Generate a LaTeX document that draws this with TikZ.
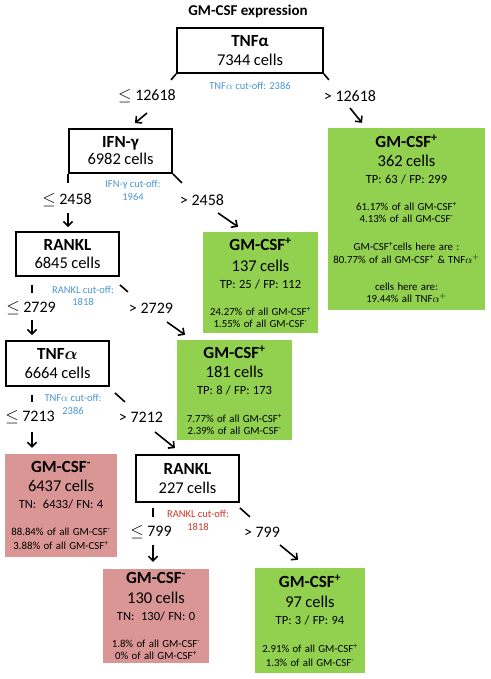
\documentclass[tikz,border=0pt]{standalone}
\usepackage{amsmath}
\usepackage{fontspec}
\setmainfont{Carlito}
\usetikzlibrary{arrows.meta}
\definecolor{leafgreen}{HTML}{92D050}
\definecolor{leafred}{HTML}{D99694}
\definecolor{cutblue}{HTML}{4A94D4}
\definecolor{cutred}{HTML}{D0342C}
\newcommand{\gmp}{GM-CSF\textsuperscript{+}}
\newcommand{\gmn}{GM-CSF\textsuperscript{-}}
\newcommand{\headline}[1]{{\fontsize{17}{17}\selectfont\bfseries #1\par}}
\newcommand{\cellline}[2][19]{{\fontsize{16.5}{#1}\selectfont #2\par}}
\newcommand{\rateline}[1]{{\fontsize{12.5}{17}\selectfont #1\par}}
\newcommand{\pctline}[2][12]{{\fontsize{10.8}{#1}\selectfont #2\par}}
\tikzstyle{block} = [draw, rectangle, line width=1.8pt, align=center, inner sep=0pt]
\tikzstyle{posleaf} = [fill=leafgreen, rectangle, align=center, inner sep=0pt]
\tikzstyle{negleaf} = [fill=leafred, rectangle, align=center, inner sep=0pt]
\tikzstyle{branch} = [font=\fontsize{16}{16}\selectfont, inner sep=0pt]
\tikzstyle{cutoff} = [text=cutblue, font=\fontsize{10.5}{12.5}\selectfont, align=center, inner sep=0pt]
\tikzstyle{stub} = [line width=1.6pt]
\tikzstyle{link} = [->, line width=1.6pt]

\begin{document}
\begin{tikzpicture}[x=1pt, y=1pt, >={Straight Barb[length=4.5pt,width=9pt]}]
		\useasboundingbox (0,0) rectangle (490,-679);
		\node [font=\fontsize{15}{15}\selectfont\bfseries] (title) at (248,-11) {GM-CSF expression};

		% split nodes
		\node [block, minimum width=146pt, minimum height=45pt, text width=146pt] (root) at (250,-50.5) {\headline{TNFα}\cellline{7344 cells}};
		\node [block, minimum width=103pt, minimum height=44pt, text width=103pt] (ifn) at (120.5,-151) {\headline{IFN-γ}\cellline[17]{6982 cells}};
		\node [block, minimum width=103pt, minimum height=44pt, text width=103pt] (rankla) at (67.5,-254) {\headline{RANKL}\cellline[18]{6845 cells}};
		\node [block, minimum width=103pt, minimum height=45pt, text width=103pt] (tnfb) at (57.5,-363.5) {\headline{TNF$\boldsymbol{\alpha}$}\cellline{6664 cells}};
		\node [block, minimum width=103pt, minimum height=47pt, text width=103pt] (ranklb) at (187.5,-478.5) {\headline{RANKL}\cellline{227 cells}};

		% leaves
		\node [posleaf, minimum width=157pt, minimum height=182pt, text width=157pt] (gpa) at (406.5,-219) {\headline{\gmp}\cellline{362 cells}\rateline{TP: 63 / FP: 299}\pctline[27]{61.17\% of all \gmp}\pctline{4.13\% of all \gmn}\pctline[28]{\gmp{}cells here are :}\pctline[13]{80.77\% of all \gmp{} \& TNF$\alpha^{+}$}\pctline[27]{cells here are:}\pctline{19.44\% all TNF$\alpha^{+}$}};
		\node [posleaf, minimum width=115pt, minimum height=101pt, text width=115pt] (gpb) at (260.5,-282.5) {\headline{\gmp}\cellline[21]{137 cells}\rateline{TP: 25 / FP: 112}\pctline[27]{24.27\% of all \gmp}\pctline[12]{1.55\% of all \gmn}};
		\node [posleaf, minimum width=115pt, minimum height=100pt, text width=115pt] (gpc) at (234.5,-390) {\headline{\gmp}\cellline{181 cells}\rateline{TP: 8 / FP: 173}\pctline[28]{7.77\% of all \gmp}\pctline{2.39\% of all \gmn}};
		\node [negleaf, minimum width=112pt, minimum height=103pt, text width=112pt] (gna) at (61,-505.5) {\headline{\gmn}\cellline{6437 cells}\rateline{TN:~~6433/ FN: 4}\pctline[27]{88.84\% of all \gmn}\pctline[14]{3.88\% of all \gmp}};
		\node [negleaf, minimum width=106pt, minimum height=94pt, text width=106pt] (gnb) at (156,-616) {\headline{\gmn}\cellline[20]{130 cells}\rateline{TN:~~130/ FN: 0}\pctline[27]{1.8\% of all \gmn}\pctline[12]{0\% of all \gmp}};
		\node [posleaf, minimum width=110pt, minimum height=105pt, text width=110pt] (gpd) at (310,-620.5) {\headline{\gmp}\cellline[20]{97 cells}\rateline{TP: 3 / FP: 94}\pctline[28]{2.91\% of all \gmp}\pctline[14]{1.3\% of all \gmn}};

		% cut-offs and thresholds
		\node [cutoff] (cuta) at (250,-86) {TNF$\alpha$ cut-off: 2386};
		\node [cutoff] (cutb) at (133,-190.5) {IFN-γ cut-off:\\1964};
		\node [cutoff] (cutc) at (83,-296) {RANKL cut-off:\\1818};
		\node [cutoff] (cutd) at (73,-404.5) {TNF$\alpha$ cut-off:\\2386};
		\node [cutoff, text=cutred] (cute) at (198,-520.5) {RANKL cut-off:\\1818};
		\node [branch] (lea) at (147,-96) {$\leq$ 12618};
		\node [branch] (gta) at (350,-96) {> 12618};
		\node [branch] (leb) at (67,-200) {$\leq$ 2458};
		\node [branch] (gtb) at (202,-200) {> 2458};
		\node [branch] (lec) at (31,-308) {$\leq$ 2729};
		\node [branch] (gtc) at (151,-308) {> 2729};
		\node [branch] (led) at (30,-417) {$\leq$ 7213};
		\node [branch] (gtd) at (141,-417) {> 7212};
		\node [branch] (lee) at (151,-532) {$\leq$ 799};
		\node [branch] (gte) at (262,-532) {> 799};

		% stubs under the split nodes
		\draw [stub] (root.south west) -- ++(-5,-6);
		\draw [stub] (root.south east) -- ++(5,-6);
		\draw [stub] (ifn.south west) -- ++(0,-9);
		\draw [stub] (ifn.south east) -- ++(9,-9);
		\draw [stub] ([shift={(17,-8)}]rankla.south west) -- ++(0,-8);
		\draw [stub] ([shift={(0,-8)}]rankla.south east) -- ++(8,-7);
		\draw [stub] ([shift={(27,-8)}]tnfb.south west) -- ++(0,-7);
		\draw [stub] ([shift={(5,-6)}]tnfb.south east) -- ++(10,-9);
		\draw [stub] ([shift={(18,-5)}]ranklb.south west) -- ++(0,-9);
		\draw [stub] ([shift={(0,-5)}]ranklb.south east) -- ++(10,-9);

		% arrows
		\draw [link] ([shift={(0,-17)}]lea.center) -- ([shift={(14.5,5)}]ifn.north);
		\draw [link] ([shift={(0,-12)}]gta.center) -- ([shift={(-44.5,5)}]gpa.north);
		\draw [link] ([shift={(1,-13)}]leb.center) -- ([shift={(0.5,4)}]rankla.north);
		\draw [link] ([shift={(16,-13)}]gtb.center) -- ([shift={(-22.5,5)}]gpb.north);
		\draw [link] ([shift={(1,-12)}]lec.center) -- ([shift={(-25.5,5)}]tnfb.north);
		\draw [link] ([shift={(16,-14)}]gtc.center) -- ([shift={(-49.5,5)}]gpc.north);
		\draw [link] ([shift={(2,-15)}]led.center) -- ([shift={(-29,6)}]gna.north);
		\draw [link] ([shift={(14,-15)}]gtd.center) -- ([shift={(-12.5,6)}]ranklb.north);
		\draw [link] ([shift={(2,-13)}]lee.center) -- ([shift={(-3,7)}]gnb.north);
		\draw [link] ([shift={(18,-13)}]gte.center) -- ([shift={(-12,8)}]gpd.north);
	\end{tikzpicture}
\end{document}
